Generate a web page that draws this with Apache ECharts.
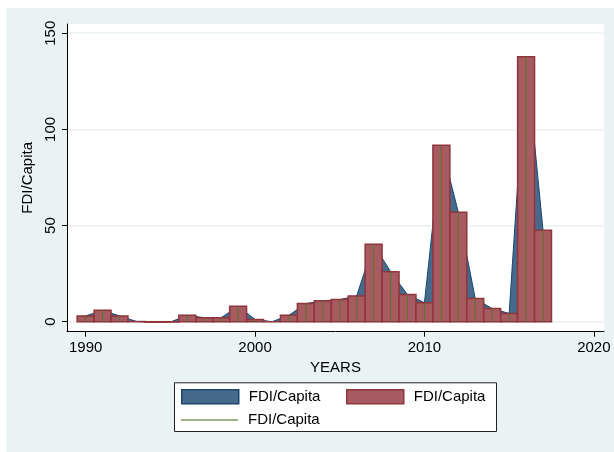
<!DOCTYPE html>
<html>
<head>
<meta charset="utf-8">
<script src="https://cdn.jsdelivr.net/npm/echarts@6/dist/echarts.min.js"></script>
<style>
  html, body { margin: 0; padding: 0; background: #ffffff; width: 614px; height: 452px; overflow: hidden; }
  #wrap { position: absolute; left: 6px; top: 8px; width: 608px; height: 444px; background: #EAF2F3; }
  #chart { width: 608px; height: 444px; }
</style>
</head>
<body>
<div id="wrap"><div id="chart"></div></div>
<script>
// ---- data ----
const years = [1990, 1991, 1992, 1993, 1994, 1995, 1996, 1997, 1998, 1999,
               2000, 2001, 2002, 2003, 2004, 2005, 2006, 2007, 2008, 2009,
               2010, 2011, 2012, 2013, 2014, 2015, 2016, 2017];
const fdiPerCapita = [3.0, 5.9, 3.0, 0.1, -0.3, -0.2, 3.3, 2.1, 2.1, 8.0,
                      1.2, 0.0, 3.3, 9.4, 10.9, 11.5, 13.4, 40.3, 26.0, 14.1,
                      9.9, 91.7, 56.9, 12.0, 6.8, 4.3, 137.8, 47.6];
const xTicks = [1990, 2000, 2010, 2020];
const yTicks = [0, 50, 100, 150];
const seriesLabel = 'FDI/Capita';
const xTitle = 'YEARS';
const yTitle = 'FDI/Capita';

// ---- styles ----
const FONT = "'Liberation Sans', Arial, sans-serif";
const navyLine = '#1A476F', navyFill = '#476A8C';
const maroonLine = '#90353B', maroonFill = '#A55B60';
const green = '#55752F';
const gridColor = '#EAF2F3';

const pts = years.map((y, i) => [y, fdiPerCapita[i]]);

const chart = echarts.init(document.getElementById('chart'), null, { renderer: 'canvas' });

const option = {
  backgroundColor: '#EAF2F3',
  animation: false,
  textStyle: { fontFamily: FONT, color: '#000' },
  grid: {
    left: 61, top: 16, right: 10, bottom: 120.3,
    show: true, backgroundColor: '#ffffff', borderWidth: 0
  },
  xAxis: {
    type: 'value',
    min: 1988.9, max: 2020.6,
    name: xTitle, nameLocation: 'middle', nameGap: 25,
    nameTextStyle: { fontFamily: FONT, fontSize: 15, color: '#000' },
    axisLine: { show: true, onZero: false, lineStyle: { color: '#000', width: 1 } },
    axisTick: { show: true, length: 5, customValues: xTicks, lineStyle: { color: '#000', width: 1 } },
    axisLabel: { customValues: xTicks, formatter: v => String(v), margin: 9, fontFamily: FONT, fontSize: 15, color: '#000' },
    splitLine: { show: false }
  },
  yAxis: {
    type: 'value',
    min: -5.2, max: 154.8,
    name: yTitle, nameLocation: 'middle', nameGap: 25, nameRotate: 90,
    nameTextStyle: { fontFamily: FONT, fontSize: 15, color: '#000' },
    axisLine: { show: true, onZero: false, lineStyle: { color: '#000', width: 1 } },
    axisTick: { show: true, length: 5, customValues: yTicks, lineStyle: { color: '#000', width: 1 } },
    axisLabel: { customValues: yTicks, formatter: v => String(v), rotate: 90, margin: 9, fontFamily: FONT, fontSize: 15, color: '#000' },
    splitLine: { show: true, lineStyle: { color: gridColor, width: 1.5 } }
  },
  legend: [
    {
      left: 175, top: 381, padding: 0, itemWidth: 57, itemHeight: 14,
      selectedMode: false,
      data: [{ name: 'area', icon: 'rect', itemStyle: { color: navyFill, borderColor: navyLine, borderWidth: 1.5 } }],
      formatter: () => seriesLabel,
      textStyle: { fontFamily: FONT, fontSize: 15, color: '#000', padding: [0, 0, 0, 5] }
    },
    {
      left: 340, top: 381, padding: 0, itemWidth: 57, itemHeight: 14,
      selectedMode: false,
      data: [{ name: 'bar', icon: 'rect', itemStyle: { color: maroonFill, borderColor: maroonLine, borderWidth: 1.5 } }],
      formatter: () => seriesLabel,
      textStyle: { fontFamily: FONT, fontSize: 15, color: '#000', padding: [0, 0, 0, 5] }
    },
    {
      left: 175, top: 404.5, padding: 0, itemWidth: 57, itemHeight: 1.5,
      selectedMode: false,
      data: [{ name: 'spike', icon: 'rect', itemStyle: { color: '#7E9A5E', borderWidth: 0 } }],
      formatter: () => seriesLabel,
      textStyle: { fontFamily: FONT, fontSize: 15, color: '#000', padding: [0, 0, 0, 5] }
    }
  ],
  graphic: [
    {
      type: 'rect', left: 168, top: 374.3, z: -1,
      shape: { width: 322, height: 48.7 },
      style: { fill: '#ffffff', stroke: '#222', lineWidth: 1 }
    }
  ],
  series: [
    {
      name: 'area', type: 'line', data: pts, symbol: 'none',
      lineStyle: { color: navyLine, width: 1 },
      itemStyle: { color: navyFill },
      areaStyle: { color: navyFill, opacity: 1 },
      z: 1
    },
    {
      name: 'bar', type: 'custom', data: pts,
      encode: { x: 0, y: 1 },
      itemStyle: { color: maroonFill },
      renderItem: function (params, api) {
        const x = api.value(0), v = api.value(1);
        const a = api.coord([x - 0.5, v]);
        const b = api.coord([x + 0.5, 0]);
        return {
          type: 'rect',
          shape: { x: a[0], y: Math.min(a[1], b[1]), width: b[0] - a[0], height: Math.abs(b[1] - a[1]) },
          style: { fill: maroonFill, stroke: maroonLine, lineWidth: 1.5 }
        };
      },
      z: 2
    },
    {
      name: 'spike', type: 'custom', data: pts,
      encode: { x: 0, y: 1 },
      itemStyle: { color: green },
      renderItem: function (params, api) {
        const x = api.value(0), v = api.value(1);
        const a = api.coord([x, 0]);
        const b = api.coord([x, v]);
        return {
          type: 'line',
          shape: { x1: a[0], y1: a[1], x2: b[0], y2: b[1] },
          style: { stroke: green, lineWidth: 1 }
        };
      },
      z: 3
    }
  ]
};
chart.setOption(option);
</script>
</body>
</html>
